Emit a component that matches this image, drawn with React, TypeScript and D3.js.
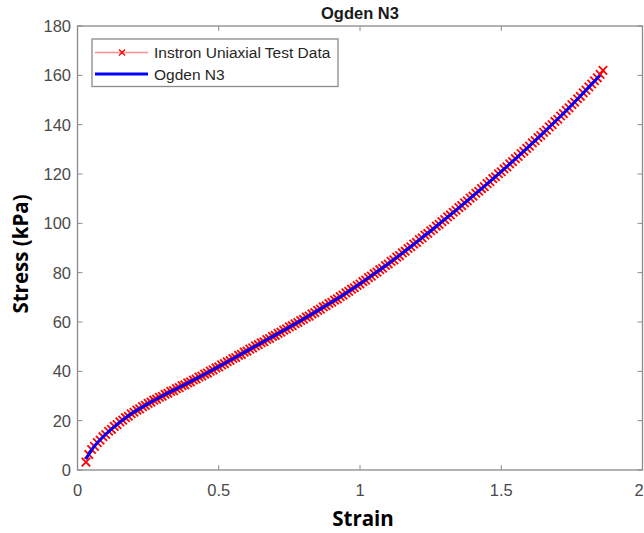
import React from "react";
import * as d3 from "d3";

// Uniaxial test data (Instron), strain vs stress in kPa
const testStrain = [
  0.03, 0.04, 0.05, 0.06, 0.07, 0.08, 0.09,
  0.1, 0.11, 0.12, 0.13, 0.14, 0.15, 0.16, 0.17, 0.18, 0.19,
  0.2, 0.21, 0.22, 0.23, 0.24, 0.25, 0.26, 0.27, 0.28, 0.29,
  0.3, 0.31, 0.32, 0.33, 0.34, 0.35, 0.36, 0.37, 0.38, 0.39,
  0.4, 0.41, 0.42, 0.43, 0.44, 0.45, 0.46, 0.47, 0.48, 0.49,
  0.5, 0.51, 0.52, 0.53, 0.54, 0.55, 0.56, 0.57, 0.58, 0.59,
  0.6, 0.61, 0.62, 0.63, 0.64, 0.65, 0.66, 0.67, 0.68, 0.69,
  0.7, 0.71, 0.72, 0.73, 0.74, 0.75, 0.76, 0.77, 0.78, 0.79,
  0.8, 0.81, 0.82, 0.83, 0.84, 0.85, 0.86, 0.87, 0.88, 0.89,
  0.9, 0.91, 0.92, 0.93, 0.94, 0.95, 0.96, 0.97, 0.98, 0.99,
  1.0, 1.01, 1.02, 1.03, 1.04, 1.05, 1.06, 1.07, 1.08, 1.09,
  1.1, 1.11, 1.12, 1.13, 1.14, 1.15, 1.16, 1.17, 1.18, 1.19,
  1.2, 1.21, 1.22, 1.23, 1.24, 1.25, 1.26, 1.27, 1.28, 1.29,
  1.3, 1.31, 1.32, 1.33, 1.34, 1.35, 1.36, 1.37, 1.38, 1.39,
  1.4, 1.41, 1.42, 1.43, 1.44, 1.45, 1.46, 1.47, 1.48, 1.49,
  1.5, 1.51, 1.52, 1.53, 1.54, 1.55, 1.56, 1.57, 1.58, 1.59,
  1.6, 1.61, 1.62, 1.63, 1.64, 1.65, 1.66, 1.67, 1.68, 1.69,
  1.7, 1.71, 1.72, 1.73, 1.74, 1.75, 1.76, 1.77, 1.78, 1.79,
  1.8, 1.81, 1.82, 1.83, 1.84, 1.85, 1.86,
];

const testStress = [
  3.2, 6.3, 8.3, 9.6, 11.1, 12.1, 13.5,
  14.4, 15.7, 16.5, 17.7, 18.4, 19.5, 20.2, 21.2, 21.8, 22.8,
  23.4, 24.3, 24.8, 25.7, 26.2, 27.0, 27.5, 28.3, 28.7, 29.5,
  29.9, 30.7, 31.1, 31.9, 32.2, 33.0, 33.4, 34.2, 34.5, 35.3,
  35.7, 36.5, 36.9, 37.7, 38.1, 38.9, 39.3, 40.1, 40.6, 41.4,
  41.8, 42.6, 43.1, 43.9, 44.4, 45.2, 45.6, 46.5, 46.9, 47.8,
  48.2, 49.0, 49.5, 50.3, 50.8, 51.6, 52.0, 52.9, 53.3, 54.2,
  54.6, 55.4, 55.9, 56.7, 57.2, 58.0, 58.5, 59.3, 59.8, 60.6,
  61.1, 62.0, 62.4, 63.3, 63.8, 64.7, 65.2, 66.1, 66.6, 67.5,
  68.0, 68.9, 69.4, 70.3, 70.9, 71.8, 72.4, 73.3, 73.9, 74.8,
  75.4, 76.4, 77.0, 78.0, 78.6, 79.6, 80.2, 81.2, 81.8, 82.9,
  83.5, 84.6, 85.2, 86.3, 86.9, 88.0, 88.7, 89.8, 90.5, 91.6,
  92.3, 93.4, 94.1, 95.2, 95.9, 97.0, 97.7, 98.9, 99.6, 100.7,
  101.5, 102.6, 103.4, 104.5, 105.3, 106.4, 107.2, 108.3, 109.1, 110.2,
  111.0, 112.2, 113.0, 114.1, 114.9, 116.1, 116.9, 118.1, 118.9, 120.1,
  120.9, 122.1, 122.9, 124.1, 125.0, 126.2, 127.1, 128.3, 129.2, 130.4,
  131.3, 132.6, 133.5, 134.8, 135.6, 136.9, 137.8, 139.1, 140.0, 141.3,
  142.2, 143.5, 144.5, 145.8, 146.8, 148.1, 149.1, 150.5, 151.5, 152.9,
  154.0, 155.3, 156.5, 157.8, 159.0, 160.4, 162.0,
];

// Ogden N=3 hyperelastic fit
const fitStrain = [
  0.03, 0.05, 0.07, 0.1, 0.15, 0.2, 0.25, 0.3, 0.35, 0.4, 0.45, 0.5, 0.55,
  0.6, 0.65, 0.7, 0.75, 0.8, 0.85, 0.9, 0.95, 1.0, 1.05, 1.1, 1.15, 1.2,
  1.25, 1.3, 1.35, 1.4, 1.45, 1.5, 1.55, 1.6, 1.65, 1.7, 1.75, 1.8, 1.85,
];
const fitStress = [
  4.5, 8.2, 11.0, 14.5, 19.4, 23.5, 26.9, 30.0, 32.9, 35.8, 38.8, 41.9, 45.1,
  48.3, 51.5, 54.7, 57.9, 61.2, 64.6, 68.1, 71.7, 75.5, 79.5, 83.6, 87.9, 92.4,
  96.9, 101.6, 106.3, 111.1, 116.0, 121.0, 126.1, 131.4, 136.8, 142.3, 148.0, 154.0, 160.0,
];

const xTicks = [0, 0.5, 1, 1.5, 2];
const yTicks = [0, 20, 40, 60, 80, 100, 120, 140, 160, 180];
const seriesNames = ["Instron Uniaxial Test Data", "Ogden N3"];

const W = 644;
const H = 533;
const plot = { left: 77.5, right: 642.5, top: 26, bottom: 470 };

const axisColor = "#8a8a8a";
const tickTextColor = "#4a4a4a";
const sansFont = "'Liberation Sans', Arial, Helvetica, sans-serif";
const labelFont = "'Open Sans', 'Noto Sans', sans-serif";

function XMark({ x, y, s, w }: { x: number; y: number; s: number; w: number }) {
  return (
    <path
      d={`M${x - s},${y - s}L${x + s},${y + s}M${x - s},${y + s}L${x + s},${y - s}`}
      stroke="#ff0000"
      strokeWidth={w}
      fill="none"
    />
  );
}

export default function App() {
  const x = d3.scaleLinear().domain([0, 2]).range([plot.left, plot.right]);
  const y = d3.scaleLinear().domain([0, 180]).range([plot.bottom, plot.top]);

  const testPts: [number, number][] = testStrain.map((s, i) => [s, testStress[i]]);
  const fitPts: [number, number][] = fitStrain.map((s, i) => [s, fitStress[i]]);

  const line = d3
    .line<[number, number]>()
    .x((d) => x(d[0]))
    .y((d) => y(d[1]))
    .curve(d3.curveMonotoneX);

  const tickLen = 5;
  const legend = { x: 92, y: 39, w: 246, h: 47.5 };
  const row1 = 52.5;
  const row2 = 74;

  return (
    <div style={{ position: "absolute", left: 0, top: 0 }}>
      <svg width={W} height={H} style={{ display: "block", background: "#fff" }}>
        {/* Title */}
        <text
          x={(plot.left + plot.right) / 2}
          y={19}
          textAnchor="middle"
          fontFamily={sansFont}
          fontWeight="bold"
          fontSize={16.5}
          fill="#1a1a1a"
        >
          Ogden N3
        </text>

        {/* Axes box */}
        <rect
          x={plot.left}
          y={plot.top}
          width={plot.right - plot.left}
          height={plot.bottom - plot.top}
          fill="#fff"
          stroke={axisColor}
          strokeWidth={1.3}
        />

        {/* X ticks on bottom and top, labels below */}
        {xTicks.map((t) => (
          <g key={`x${t}`}>
            <line x1={x(t)} x2={x(t)} y1={plot.bottom} y2={plot.bottom - tickLen} stroke={axisColor} />
            <line x1={x(t)} x2={x(t)} y1={plot.top} y2={plot.top + tickLen} stroke={axisColor} />
            <text
              x={Math.min(x(t), W - 5)}
              y={plot.bottom + 25.5}
              textAnchor="middle"
              fontFamily={sansFont}
              fontSize={16.5}
              fill={tickTextColor}
            >
              {String(t)}
            </text>
          </g>
        ))}

        {/* Y ticks on left and right, labels left */}
        {yTicks.map((t) => (
          <g key={`y${t}`}>
            <line x1={plot.left} x2={plot.left + tickLen} y1={y(t)} y2={y(t)} stroke={axisColor} />
            <line x1={plot.right} x2={plot.right - tickLen} y1={y(t)} y2={y(t)} stroke={axisColor} />
            <text
              x={plot.left - 6.5}
              y={y(t) + 6}
              textAnchor="end"
              fontFamily={sansFont}
              fontSize={16.5}
              fill={tickTextColor}
            >
              {String(t)}
            </text>
          </g>
        ))}

        {/* Test data: light line with x markers */}
        <path d={line(testPts) ?? ""} fill="none" stroke="#ff8080" strokeWidth={1} />
        {testPts.map((d, i) => (
          <XMark key={i} x={x(d[0])} y={y(d[1])} s={4.2} w={1.8} />
        ))}

        {/* Ogden fit */}
        <path d={line(fitPts) ?? ""} fill="none" stroke="#0000ff" strokeWidth={3} />

        {/* Legend */}
        <rect
          x={legend.x}
          y={legend.y}
          width={legend.w}
          height={legend.h}
          fill="#fff"
          stroke="#8a8a8a"
          strokeWidth={1.3}
        />
        <line x1={95} x2={148} y1={row1} y2={row1} stroke="#ff9090" strokeWidth={1.3} />
        <XMark x={122} y={row1} s={3} w={1.3} />
        <text x={154} y={row1 + 5.5} fontFamily={sansFont} fontSize={15.5} fill="#262626">
          {seriesNames[0]}
        </text>
        <line x1={95} x2={148} y1={row2} y2={row2} stroke="#0000ff" strokeWidth={3} />
        <text x={154} y={row2 + 5.5} fontFamily={sansFont} fontSize={15.5} fill="#262626">
          {seriesNames[1]}
        </text>

        {/* Axis labels */}
        <text
          x={(plot.left + plot.right) / 2 + 3}
          y={526}
          textAnchor="middle"
          fontFamily={labelFont}
          fontWeight="bold"
          fontSize={20.5}
          fill="#000"
        >
          Strain
        </text>
        <text
          transform={`translate(28, ${254}) rotate(-90)`}
          textAnchor="middle"
          fontFamily={labelFont}
          fontWeight="bold"
          fontSize={20.5}
          fill="#000"
        >
          Stress (kPa)
        </text>
      </svg>
    </div>
  );
}
